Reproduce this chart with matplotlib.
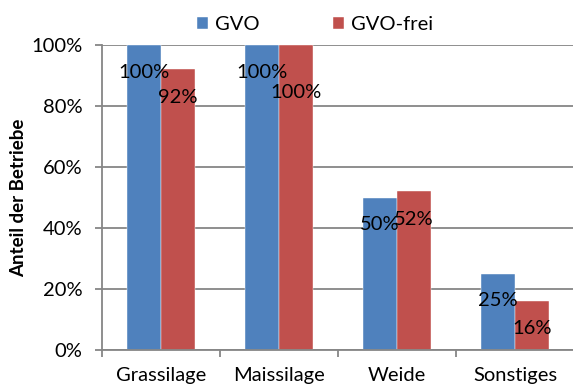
import matplotlib
matplotlib.use("Agg")
import matplotlib.pyplot as plt
import numpy as np
from matplotlib.ticker import PercentFormatter

plt.rcParams['font.family'] = ['Lato', 'DejaVu Sans']

categories = ["Grassilage", "Maissilage", "Weide", "Sonstiges"]
series_names = ["GVO", "GVO-frei"]
gvo = [100, 100, 50, 25]
gvo_frei = [92, 100, 52, 16]
colors = ["#4F81BD", "#C0504D"]
grid_color = "#868686"

# vertical offset (points) of each value label below its bar top
label_drop_gvo = [19.5, 19.5, 19.5, 19.5]
label_drop_frei = [20, 34, 20, 20]

fig = plt.figure(figsize=(5.73, 3.85), dpi=100)
ax = fig.add_axes([102 / 573, 35 / 385, 472 / 573, 305 / 385])

x = np.arange(len(categories))
w = 0.285
for vals, off, col, name, drops in [
        (gvo, -w / 2, colors[0], series_names[0], label_drop_gvo),
        (gvo_frei, w / 2, colors[1], series_names[1], label_drop_frei)]:
    bars = ax.bar(x + off, vals, width=w, color=col, label=name, zorder=3,
                  edgecolor="white", linewidth=0.3)
    for b, v, d in zip(bars, vals, drops):
        ax.annotate(f"{v}%", (b.get_x() + b.get_width() / 2, v),
                    xytext=(0, -d), textcoords="offset points",
                    ha="center", va="center", fontsize=14.5, color="black",
                    zorder=5)

ax.set_xlim(-0.5, len(categories) - 0.5)
ax.set_ylim(0, 100)
ax.set_yticks(np.arange(0, 101, 20))
ax.yaxis.set_major_formatter(PercentFormatter(decimals=0))
ax.grid(axis="y", color=grid_color, linewidth=1.3, zorder=0)

ax.set_xticks(np.arange(-0.5, len(categories), 1.0))
ax.set_xticklabels([])
ax.set_xticks(x, minor=True)
ax.set_xticklabels(categories, minor=True, fontsize=14.5)
ax.tick_params(axis="x", which="major", length=5, color=grid_color, width=1.3)
ax.tick_params(axis="x", which="minor", length=0, pad=12)
ax.tick_params(axis="y", length=5, color=grid_color, width=1.3, pad=9,
               labelsize=14.5)

for s in ["top", "right"]:
    ax.spines[s].set_visible(False)
for s in ["left", "bottom"]:
    ax.spines[s].set_color(grid_color)
    ax.spines[s].set_linewidth(1.3)
    ax.spines[s].set_zorder(4)

ax.set_ylabel("Anteil der Betriebe", fontsize=13.5, fontweight="bold",
              labelpad=3)

fig.legend(loc="center", bbox_to_anchor=(315 / 573, 1 - 25 / 385), ncol=2,
           frameon=False, fontsize=14.5, handlelength=0.55, handleheight=0.55,
           handletextpad=0.35, columnspacing=3.6)

fig.savefig("out.png", dpi=100)
